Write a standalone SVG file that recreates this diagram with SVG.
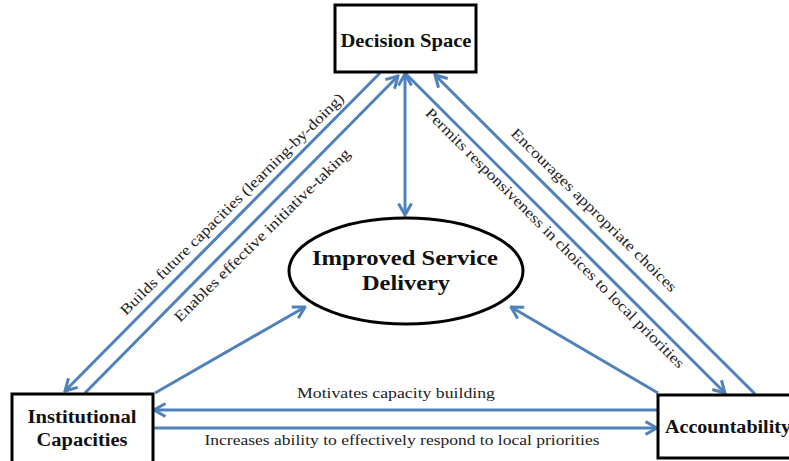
<svg xmlns="http://www.w3.org/2000/svg" width="789" height="461" viewBox="0 0 789 461">
  <style>
    .box { fill: #ffffff; stroke: #000000; stroke-width: 3; }
    .node-title { font-family: "Liberation Serif", "Times New Roman", serif; font-weight: bold; fill: #111111; }
    .link { fill: none; stroke: #4F81BD; stroke-width: 3; }
    .label { font-family: "Liberation Serif", "Times New Roman", serif; font-size: 15px; fill: #222222; }
  </style>
  <defs>
    <marker id="head" viewBox="0 0 14 16" refX="12.5" refY="8" markerWidth="14" markerHeight="16" orient="auto-start-reverse" markerUnits="userSpaceOnUse">
      <path d="M1,1.5 L12.5,8 L1,14.5" fill="none" stroke="#4F81BD" stroke-width="3" stroke-linejoin="miter"/>
    </marker>
  </defs>

  <rect width="789" height="461" fill="#ffffff"/>

  <!-- connectors -->
  <g id="connectors">
    <!-- Decision Space -> Institutional Capacities -->
    <line class="link" x1="380" y1="73" x2="65" y2="391" marker-end="url(#head)"/>
    <!-- Institutional Capacities -> Decision Space -->
    <line class="link" x1="85" y1="393" x2="398" y2="76" marker-end="url(#head)"/>
    <!-- Decision Space <-> Improved Service Delivery -->
    <line class="link" x1="405" y1="74" x2="405" y2="215" marker-start="url(#head)" marker-end="url(#head)"/>
    <!-- Decision Space -> Accountability -->
    <line class="link" x1="405" y1="73" x2="725" y2="393" marker-end="url(#head)"/>
    <!-- Accountability -> Decision Space -->
    <line class="link" x1="755" y1="394" x2="435" y2="75" marker-end="url(#head)"/>
    <!-- Institutional Capacities -> Improved Service Delivery -->
    <line class="link" x1="155" y1="393" x2="305" y2="307" marker-end="url(#head)"/>
    <!-- Accountability -> Improved Service Delivery -->
    <line class="link" x1="658" y1="393" x2="511" y2="307" marker-end="url(#head)"/>
    <!-- Accountability -> Institutional Capacities -->
    <line class="link" x1="658" y1="410" x2="154" y2="410" marker-end="url(#head)"/>
    <!-- Institutional Capacities -> Accountability -->
    <line class="link" x1="154" y1="428" x2="657" y2="428" marker-end="url(#head)"/>

    <!-- connector labels -->
    <text class="label" transform="translate(232,204) rotate(-44.7)" y="5" text-anchor="middle" textLength="308" lengthAdjust="spacingAndGlyphs">Builds future capacities (learning-by-doing)</text>
    <text class="label" transform="translate(262,235) rotate(-44.5)" y="5" text-anchor="middle" textLength="240" lengthAdjust="spacingAndGlyphs">Enables effective initiative-taking</text>
    <text class="label" transform="translate(555,238) rotate(45.1)" y="5" text-anchor="middle" textLength="360" lengthAdjust="spacingAndGlyphs">Permits responsiveness in choices to local priorities</text>
    <text class="label" transform="translate(594,210) rotate(44.6)" y="5" text-anchor="middle" textLength="226" lengthAdjust="spacingAndGlyphs">Encourages appropriate choices</text>
    <text class="label" x="396" y="398" text-anchor="middle" textLength="198" lengthAdjust="spacingAndGlyphs">Motivates capacity building</text>
    <text class="label" x="402" y="445" text-anchor="middle" textLength="395" lengthAdjust="spacingAndGlyphs">Increases ability to effectively respond to local priorities</text>
  </g>

  <!-- nodes -->
  <g id="decision-space">
    <rect class="box" x="335" y="5" width="141" height="67"/>
    <text class="node-title" x="406" y="47" font-size="19" text-anchor="middle" textLength="131" lengthAdjust="spacingAndGlyphs">Decision Space</text>
  </g>

  <g id="improved-service-delivery">
    <ellipse cx="406" cy="271" rx="117" ry="53" fill="#ffffff" stroke="#000000" stroke-width="3"/>
    <text class="node-title" x="405" y="265" font-size="22" text-anchor="middle" textLength="186" lengthAdjust="spacingAndGlyphs">Improved Service</text>
    <text class="node-title" x="406" y="290" font-size="22" text-anchor="middle" textLength="88" lengthAdjust="spacingAndGlyphs">Delivery</text>
  </g>

  <g id="institutional-capacities">
    <rect class="box" x="12" y="394" width="141" height="72"/>
    <text class="node-title" x="82" y="423" font-size="18" text-anchor="middle" textLength="109" lengthAdjust="spacingAndGlyphs">Institutional</text>
    <text class="node-title" x="82" y="446" font-size="18" text-anchor="middle" textLength="91" lengthAdjust="spacingAndGlyphs">Capacities</text>
  </g>

  <g id="accountability">
    <rect class="box" x="658" y="395" width="140" height="63"/>
    <text class="node-title" x="665" y="433" font-size="18" textLength="126" lengthAdjust="spacingAndGlyphs">Accountability</text>
  </g>
</svg>
